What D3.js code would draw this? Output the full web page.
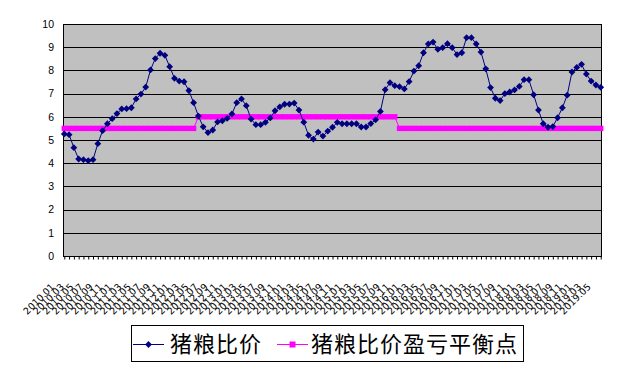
<!DOCTYPE html>
<html>
<head>
<meta charset="utf-8">
<script src="https://cdn.jsdelivr.net/npm/d3@7"></script>
<style>
  body { margin: 0; background: #fff; }
  svg { display: block; }
  .axis text { font-family: "Liberation Sans", Arial, sans-serif; fill: #000; }
  .legend text { font-family: "Noto Sans CJK SC", sans-serif; fill: #000; }
</style>
</head>
<body>
<svg id="chart" width="618" height="371"></svg>
<script>
// months 2010.01 .. 2019.05
var startYear = 2010, monthCount = 113;
var months = [];
for (var k = 0; k < monthCount; k++) {
  var yy = startYear + Math.floor(k / 12), mm = (k % 12) + 1;
  months.push(yy + '.' + (mm < 10 ? '0' + mm : mm));
}

var yTicks = [0, 1, 2, 3, 4, 5, 6, 7, 8, 9, 10];

// 猪粮比价
var ratio = [
  5.26, 5.23, 4.67, 4.18, 4.15, 4.11, 4.15, 4.84, 5.40, 5.70, 5.92, 6.14,
  6.34, 6.35, 6.39, 6.77, 6.98, 7.28, 8.02, 8.51, 8.74, 8.65, 8.16, 7.66,
  7.54, 7.51, 7.13, 6.61, 6.03, 5.57, 5.32, 5.43, 5.78, 5.83, 5.93, 6.12,
  6.61, 6.77, 6.48, 5.90, 5.66, 5.66, 5.76, 5.95, 6.26, 6.43, 6.54, 6.55,
  6.59, 6.29, 5.77, 5.20, 5.04, 5.34, 5.17, 5.38, 5.55, 5.76, 5.70, 5.70,
  5.70, 5.70, 5.56, 5.56, 5.71, 5.87, 6.23, 7.17, 7.47, 7.34, 7.30, 7.20,
  7.52, 7.97, 8.20, 8.76, 9.14, 9.22, 8.91, 8.98, 9.15, 8.98, 8.68, 8.76,
  9.41, 9.41, 9.14, 8.79, 8.07, 7.26, 6.80, 6.70, 7.00, 7.07, 7.16, 7.31,
  7.60, 7.60, 6.95, 6.29, 5.70, 5.55, 5.58, 5.96, 6.39, 6.93, 7.93, 8.13,
  8.26, 7.84, 7.54, 7.37, 7.27
];

// 猪粮比价盈亏平衡点
var breakeven = [
  5.5, 5.5, 5.5, 5.5, 5.5, 5.5, 5.5, 5.5, 5.5, 5.5, 5.5, 5.5,
  5.5, 5.5, 5.5, 5.5, 5.5, 5.5, 5.5, 5.5, 5.5, 5.5, 5.5, 5.5,
  5.5, 5.5, 5.5, 5.5, 6, 6, 6, 6, 6, 6, 6, 6,
  6, 6, 6, 6, 6, 6, 6, 6, 6, 6, 6, 6,
  6, 6, 6, 6, 6, 6, 6, 6, 6, 6, 6, 6,
  6, 6, 6, 6, 6, 6, 6, 6, 6, 6, 5.5, 5.5,
  5.5, 5.5, 5.5, 5.5, 5.5, 5.5, 5.5, 5.5, 5.5, 5.5, 5.5, 5.5,
  5.5, 5.5, 5.5, 5.5, 5.5, 5.5, 5.5, 5.5, 5.5, 5.5, 5.5, 5.5,
  5.5, 5.5, 5.5, 5.5, 5.5, 5.5, 5.5, 5.5, 5.5, 5.5, 5.5, 5.5,
  5.5, 5.5, 5.5, 5.5, 5.5
];

var seriesNames = ['猪粮比价', '猪粮比价盈亏平衡点'];
var seriesColors = ['#000080', '#ff00ff'];

var plot = { left: 63, right: 602, top: 24, bottom: 256 };
var svg = d3.select('#chart');

var x = d3.scalePoint().domain(months).range([plot.left, plot.right]).padding(0.27);
var y = d3.scaleLinear().domain([0, 10]).range([plot.bottom, plot.top]);

// plot area
svg.append('rect')
  .attr('x', plot.left).attr('y', plot.top)
  .attr('width', plot.right - plot.left).attr('height', plot.bottom - plot.top)
  .attr('fill', '#c0c0c0');

svg.append('g').selectAll('line')
  .data(yTicks)
  .enter().append('line')
  .attr('x1', plot.left).attr('x2', plot.right)
  .attr('y1', function(d) { return Math.round(y(d)) + 0.5; })
  .attr('y2', function(d) { return Math.round(y(d)) + 0.5; })
  .attr('stroke', '#000').attr('stroke-width', 1);

svg.append('rect')
  .attr('x', plot.left + 0.5).attr('y', plot.top + 0.5)
  .attr('width', plot.right - plot.left - 1).attr('height', plot.bottom - plot.top)
  .attr('fill', 'none').attr('stroke', '#000');

// y axis labels
var yAxis = svg.append('g')
  .attr('class', 'axis')
  .attr('transform', 'translate(' + plot.left + ',0)')
  .call(d3.axisLeft(y).tickValues(yTicks).tickSize(0).tickPadding(9));
yAxis.select('.domain').remove();
yAxis.selectAll('text').style('font-size', '10.5px');

// x axis: minor ticks on every month
var xTickAxis = svg.append('g')
  .attr('transform', 'translate(0,' + (plot.bottom + 0.5) + ')')
  .call(d3.axisBottom(x).tickSize(3).tickFormat(''));
xTickAxis.select('.domain').remove();
xTickAxis.selectAll('line').attr('stroke', '#000');

// x axis labels every second month, rotated
var xLabelAxis = svg.append('g')
  .attr('class', 'axis')
  .attr('transform', 'translate(0,' + plot.bottom + ')')
  .call(d3.axisBottom(x)
    .tickValues(months.filter(function(d, i) { return i % 2 === 0; }))
    .tickSize(0));
xLabelAxis.select('.domain').remove();
xLabelAxis.selectAll('text')
  .attr('x', null).attr('y', null).attr('dy', '0.35em')
  .attr('text-anchor', 'end')
  .attr('transform', 'translate(-12,29) rotate(-45)')
  .style('font-size', '9.5px')
  .style('font-family', '"DejaVu Sans", sans-serif');

// breakeven series: thin line + square markers
var lineGen = d3.line()
  .x(function(d, i) { return x(months[i]); })
  .y(function(d) { return y(d); });

svg.append('path')
  .datum(breakeven)
  .attr('d', lineGen)
  .attr('fill', 'none')
  .attr('stroke', seriesColors[1]).attr('stroke-width', 1);

svg.append('g').selectAll('rect')
  .data(breakeven)
  .enter().append('rect')
  .attr('x', function(d, i) { return x(months[i]) - 2.7; })
  .attr('y', function(d) { return y(d) - 2.7; })
  .attr('width', 5.4).attr('height', 5.4)
  .attr('fill', seriesColors[1]);

// ratio series: thin line + diamond markers
svg.append('path')
  .datum(ratio)
  .attr('d', lineGen)
  .attr('fill', 'none')
  .attr('stroke', seriesColors[0]).attr('stroke-width', 1);

var diamond = 'M0,-3.4L3.4,0L0,3.4L-3.4,0Z';
svg.append('g').selectAll('path')
  .data(ratio)
  .enter().append('path')
  .attr('d', diamond)
  .attr('transform', function(d, i) { return 'translate(' + x(months[i]) + ',' + y(d) + ')'; })
  .attr('fill', seriesColors[0]);

// legend
var legend = svg.append('g').attr('class', 'legend');
legend.append('rect')
  .attr('x', 131.5).attr('y', 325.5).attr('width', 392).attr('height', 36)
  .attr('fill', '#fff').attr('stroke', '#000');

var legendItems = [
  { x: 133, textX: 170 },
  { x: 277, textX: 311 }
];
legendItems.forEach(function(item, i) {
  var g = legend.append('g');
  g.append('line')
    .attr('x1', item.x).attr('x2', item.x + 31)
    .attr('y1', 344.5).attr('y2', 344.5)
    .attr('stroke', seriesColors[i]).attr('stroke-width', 1);
  if (i === 0) {
    g.append('path').attr('d', diamond)
      .attr('transform', 'translate(' + (item.x + 15.5) + ',344.5)')
      .attr('fill', seriesColors[i]);
  } else {
    g.append('rect')
      .attr('x', item.x + 12.5).attr('y', 341.5).attr('width', 6).attr('height', 6)
      .attr('fill', seriesColors[i]);
  }
  g.append('text')
    .attr('x', item.textX).attr('y', 352)
    .style('font-size', '22px')
    .style('letter-spacing', '1px')
    .text(seriesNames[i]);
});
</script>
</body>
</html>
